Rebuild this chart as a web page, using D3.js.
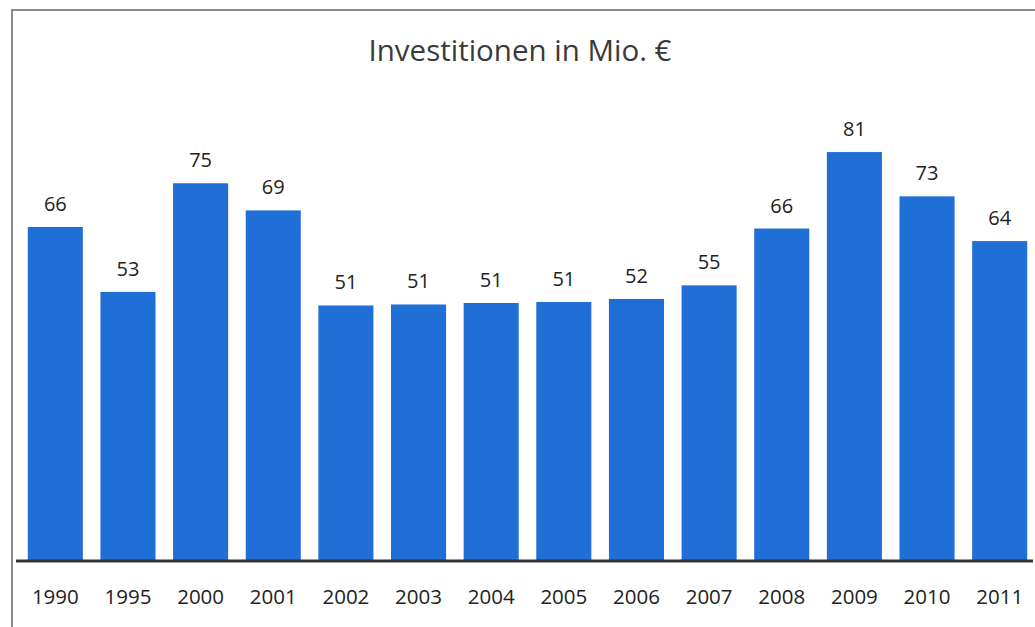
<!DOCTYPE html>
<html>
<head>
<meta charset="utf-8">
<script src="https://cdn.jsdelivr.net/npm/d3@7"></script>
<style>
    body { margin: 0; background: #fff; }
    svg { display: block; font-family: "Open Sans", "Noto Sans", sans-serif; }
</style>
</head>
<body>
<div id="chart"></div>
<script>
    const years = ["1990", "1995", "2000", "2001", "2002", "2003", "2004", "2005", "2006", "2007", "2008", "2009", "2010", "2011"];
    // bar heights as measured, labels as printed
    const values = [66.2, 53.3, 74.9, 69.5, 50.6, 50.8, 51.1, 51.3, 51.9, 54.6, 65.9, 81.1, 72.3, 63.4];
    const labels = [66, 53, 75, 69, 51, 51, 51, 51, 52, 55, 66, 81, 73, 64];
    const title = "Investitionen in Mio. €";

    const width = 1035;
    const height = 627;

    const svg = d3.select("#chart").append("svg")
        .attr("width", width)
        .attr("height", height);

    // frame (left and top edges visible in the scan)
    svg.append("path")
        .attr("d", "M12,627 L12,10 L1035,10")
        .attr("fill", "none")
        .attr("stroke", "#8a8a8a")
        .attr("stroke-width", 2);

    const x = d3.scaleBand()
        .domain(years)
        .range([19, 1036])
        .paddingInner(0.242)
        .paddingOuter(0.121);

    const y = d3.scaleLinear()
        .domain([0, 100])
        .range([560, 57]);

    svg.append("text")
        .attr("x", 520)
        .attr("y", 61)
        .attr("text-anchor", "middle")
        .attr("font-size", 29.5)
        .attr("fill", "#3a3a3a")
        .text(title);

    svg.selectAll("rect.bar")
        .data(values)
        .enter().append("rect")
        .attr("class", "bar")
        .attr("x", (d, i) => x(years[i]))
        .attr("y", d => y(d))
        .attr("width", x.bandwidth())
        .attr("height", d => y(0) - y(d))
        .attr("fill", "#1f6fd6");

    svg.selectAll("text.value")
        .data(values)
        .enter().append("text")
        .attr("class", "value")
        .attr("x", (d, i) => x(years[i]) + x.bandwidth() / 2)
        .attr("y", d => y(d) - 16)
        .attr("text-anchor", "middle")
        .attr("font-size", 20)
        .attr("fill", "#222")
        .text((d, i) => labels[i]);

    // baseline
    svg.append("line")
        .attr("x1", 16)
        .attr("x2", 1033)
        .attr("y1", y(0) + 1)
        .attr("y2", y(0) + 1)
        .attr("stroke", "#333")
        .attr("stroke-width", 3);

    const xAxis = svg.append("g")
        .attr("transform", "translate(0," + (y(0) + 2) + ")")
        .call(d3.axisBottom(x).tickSize(0).tickPadding(27));
    xAxis.select(".domain").remove();
    xAxis.selectAll("text")
        .attr("font-family", "\"Open Sans\", \"Noto Sans\", sans-serif")
        .attr("font-size", 20.5)
        .attr("fill", "#222");
</script>
</body>
</html>
